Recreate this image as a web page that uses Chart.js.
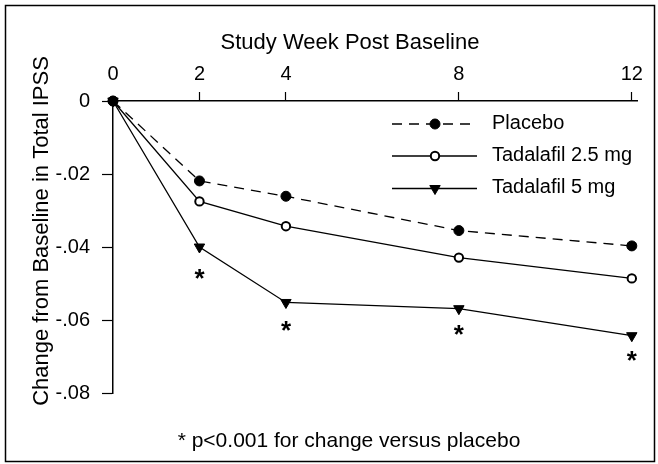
<!DOCTYPE html>
<html><head><meta charset="utf-8">
<script src="https://cdn.jsdelivr.net/npm/chart.js@4/dist/chart.umd.min.js"></script>
<style>html,body{margin:0;padding:0;background:#fff;}#wrap{width:658px;height:464px;position:relative;}</style>
</head><body><div id="wrap"><canvas id="c" width="658" height="464"></canvas></div>
<script>
const weeks = [0, 2, 4, 8, 12];
const weekTicks = [0, 2, 4, 8, 12];
const placebo = [0, -0.0219, -0.0261, -0.0355, -0.0397];
const tadalafil25 = [0, -0.0275, -0.0343, -0.0429, -0.0486];
const tadalafil5 = [0, -0.0400, -0.0552, -0.0569, -0.0643];
const sigWeeks = [2, 4, 8, 12];
const sigMarkY = [-0.0474, -0.0617, -0.0628, -0.0698];
const yTickValues = [0, -0.02, -0.04, -0.06, -0.08];
const yTickLabels = ['0', '-.02', '-.04', '-.06', '-.08'];
const seriesNames = ['Placebo', 'Tadalafil 2.5 mg', 'Tadalafil 5 mg'];
const xTitle = 'Study Week Post Baseline';
const yTitle = 'Change from Baseline in Total IPSS';
const footnote = '* p<0.001 for change versus placebo';

const FONT = '"Liberation Sans", Arial, Helvetica, sans-serif';
const toPts = arr => weeks.map((w, i) => ({x: w, y: arr[i]}));

function drawMarker(ctx, ds, x, y) {
  ctx.save();
  ctx.setLineDash([]);
  ctx.fillStyle = ds.pointBackgroundColor;
  ctx.strokeStyle = ds.pointBorderColor;
  ctx.lineWidth = ds.pointBorderWidth;
  const r = ds.pointRadius;
  ctx.beginPath();
  if (ds.pointStyle === 'triangle') {
    let rad = Math.PI;
    for (let k = 0; k < 3; k++) {
      const px = x + Math.sin(rad) * r, py = y - Math.cos(rad) * r;
      if (k === 0) ctx.moveTo(px, py); else ctx.lineTo(px, py);
      rad += 2 * Math.PI / 3;
    }
    ctx.closePath();
  } else {
    ctx.arc(x, y, r, 0, Math.PI * 2);
  }
  ctx.fill();
  ctx.stroke();
  ctx.restore();
}

const decorPlugin = {
  id: 'decor',
  beforeDraw(chart) {
    const ctx = chart.ctx;
    ctx.save();
    ctx.fillStyle = '#fff';
    ctx.fillRect(0, 0, chart.width, chart.height);
    ctx.strokeStyle = '#000';
    ctx.lineWidth = 1.5;
    ctx.strokeRect(5.5, 5.5, 649, 456);
    ctx.restore();
  },
  afterDatasetsDraw(chart) {
    const ctx = chart.ctx;
    const xs = chart.scales.x, ys = chart.scales.y;
    ctx.save();
    ctx.fillStyle = '#000';
    ctx.font = 'bold 26px ' + FONT;
    ctx.textAlign = 'center';
    ctx.textBaseline = 'alphabetic';
    const m = ctx.measureText('*');
    const off = (m.actualBoundingBoxAscent - m.actualBoundingBoxDescent) / 2;
    sigWeeks.forEach((w, i) => {
      ctx.fillText('*', xs.getPixelForValue(w), ys.getPixelForValue(sigMarkY[i]) + off);
    });
    ctx.restore();
  },
  afterDraw(chart) {
    const ctx = chart.ctx;
    ctx.save();
    ctx.fillStyle = '#000';
    ctx.font = '22px ' + FONT;
    ctx.textAlign = 'center';
    ctx.textBaseline = 'alphabetic';
    ctx.fillText(xTitle, 350, 48.5);
    ctx.save();
    ctx.translate(48, 231);
    ctx.rotate(-Math.PI / 2);
    ctx.fillText(yTitle, 0, 0);
    ctx.restore();
    ctx.font = '21px ' + FONT;
    ctx.fillText(footnote, 349, 447);
    const rows = [124, 156, 188.5];
    chart.data.datasets.forEach((ds, i) => {
      const y = rows[i];
      ctx.save();
      ctx.strokeStyle = ds.borderColor;
      ctx.lineWidth = ds.borderWidth;
      ctx.setLineDash(ds.borderDash || []);
      ctx.beginPath();
      ctx.moveTo(392, y);
      ctx.lineTo(477, y);
      ctx.stroke();
      ctx.restore();
      drawMarker(ctx, ds, 435, y);
      ctx.font = '20px ' + FONT;
      ctx.textAlign = 'left';
      ctx.fillStyle = '#000';
      ctx.fillText(ds.label, 492, y + 4.5);
    });
    ctx.restore();
  }
};

const common = {borderColor: '#000', borderWidth: 1.3, tension: 0, clip: false, pointBorderColor: '#000', pointHoverRadius: 5};

new Chart(document.getElementById('c'), {
  type: 'line',
  data: {
    datasets: [
      Object.assign({}, common, {label: seriesNames[0], data: toPts(placebo), borderDash: [10, 7],
        pointStyle: 'circle', pointRadius: 5, pointBackgroundColor: '#000', pointBorderWidth: 1}),
      Object.assign({}, common, {label: seriesNames[1], data: toPts(tadalafil25),
        pointStyle: 'circle', pointRadius: 4.2, pointBackgroundColor: '#fff', pointBorderWidth: 2}),
      Object.assign({}, common, {label: seriesNames[2], data: toPts(tadalafil5),
        pointStyle: 'triangle', pointRotation: 180, pointRadius: 6, pointBackgroundColor: '#000', pointBorderWidth: 1})
    ]
  },
  options: {
    responsive: false,
    animation: false,
    devicePixelRatio: 1,
    layout: {padding: {left: 0, top: 0, right: 21, bottom: 71}},
    plugins: {legend: {display: false}, tooltip: {enabled: false}, title: {display: false}},
    scales: {
      x: {
        type: 'linear', position: 'top', min: 0, max: 12.12,
        afterBuildTicks: s => { s.ticks = weekTicks.map(v => ({value: v})); },
        afterFit: s => { s.height = 101; },
        grid: {drawOnChartArea: false, tickLength: 9, tickWidth: 1.2,
          tickColor: c => (c.tick && c.tick.value === 0) ? 'rgba(0,0,0,0)' : '#000'},
        border: {color: '#000', width: 1.5},
        ticks: {color: '#000', font: {size: 20, family: FONT}, padding: 6, maxRotation: 0, autoSkip: false}
      },
      y: {
        type: 'linear', min: -0.08, max: 0,
        afterBuildTicks: s => { s.ticks = yTickValues.map(v => ({value: v})); },
        afterFit: s => { s.width = 113; },
        grid: {drawOnChartArea: false, tickLength: 11, tickWidth: 1.2, tickColor: '#000'},
        border: {color: '#000', width: 1.5},
        ticks: {color: '#000', font: {size: 20, family: FONT}, padding: 12, autoSkip: false,
          callback: (v, i) => yTickLabels[i]}
      }
    }
  },
  plugins: [decorPlugin]
});
</script></body></html>
